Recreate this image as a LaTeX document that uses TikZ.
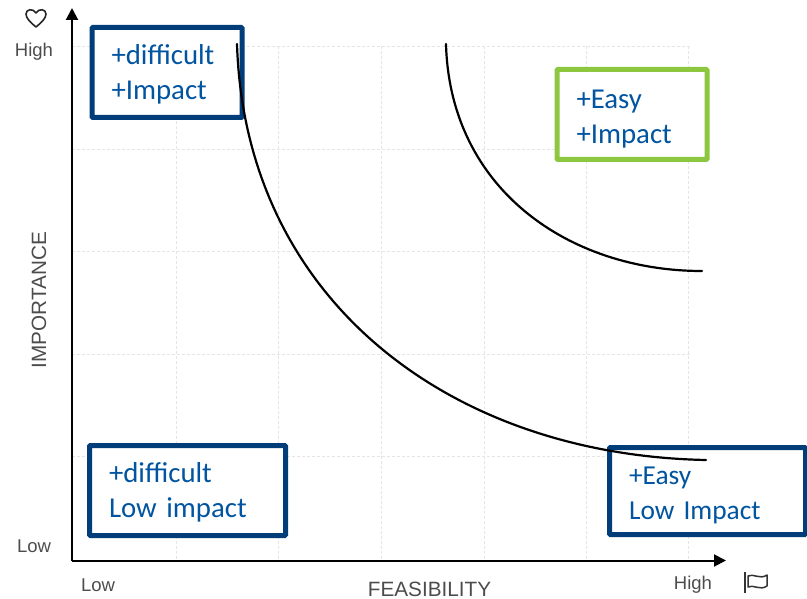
\documentclass[tikz,border=0pt]{standalone}
\usepackage{fontspec}
\setmainfont{Carlito}
\newfontfamily\axisfont{Liberation Sans}
\usetikzlibrary{arrows.meta}
\definecolor{boxblue}{RGB}{0,61,121}
\definecolor{boxgreen}{RGB}{141,198,63}
\definecolor{textblue}{RGB}{0,84,160}
\tikzset{
	quadrant/.style={draw=#1,line width=5pt,fill=white,rounded corners=1pt,inner xsep=19.5pt,inner ysep=0pt,
		text=textblue,align=left,font=\fontsize{28.8}{35}\selectfont},
	dropped/.style={execute at begin node={\vskip#1}},
	axislabel/.style={text=black!70,font=\axisfont\fontsize{18.5}{18.5}\selectfont,inner sep=0pt},
	axistitle/.style={axislabel,font=\axisfont\fontsize{20.7}{21}\selectfont},
	axisline/.style={line width=2pt,-{Triangle[length=12pt,width=12pt]}},
	curveline/.style={line width=2.2pt,line cap=round},
	gridline/.style={black!10,densely dashed,line width=.7pt}
}
\begin{document}
\begin{tikzpicture}[x=1pt,y=-1pt]
	\useasboundingbox (0,0) rectangle (807,599);
	%grid
	\foreach \i in{176,278,381,484,586,688}{
		\draw[gridline] (\i,46) -- (\i,560);
	}
	\foreach \i in{46,149,251,354,456}{
		\draw[gridline] (72,\i) -- (690,\i);
	}
	%boxes
	\node[quadrant=boxblue,dropped=-12pt,text width=111pt,minimum height=90pt] (DI) at (167,72.5) {+difficult\\+Impact};
	\node[quadrant=boxgreen,dropped=-8pt,text width=111pt,minimum height=90pt] (EI) at (632,114.5) {+Easy\\+Impact};
	\node[quadrant=boxblue,dropped=-12pt,text width=157pt,minimum height=90pt] (DL) at (187.5,490.5) {+difficult\\Low impact};
	\node[quadrant=boxblue,dropped=-8pt,text width=157pt,minimum height=87pt,font=\fontsize{27.4}{34.5}\selectfont] (EL) at (707.5,491) {+Easy\\Low Impact};
	%axes
	\coordinate (O) at (72,560.5);
	\coordinate (Y) at (72,8);
	\coordinate (X) at (726,560.5);
	\draw[axisline] (O) -- (Y);
	\draw[axisline] (O) -- (X);
	%curves
	\coordinate (A1) at (237,44);
	\coordinate (A2) at (706,460);
	\coordinate (B1) at (446,44);
	\coordinate (B2) at (702,271);
	\draw[curveline] (A1) .. controls (245,300) and (450,455) .. (A2);
	\draw[curveline] (B1) .. controls (450,190) and (570,271) .. (B2);
	%labels
	\node[axislabel] (YH) at (34,52) {High};
	\node[axislabel] (YL) at (34,546) {Low};
	\node[axislabel] (XL) at (98,585) {Low};
	\node[axislabel] (XH) at (693,585) {High};
	\node[axistitle] (XT) at (429.5,589) {FEASIBILITY};
	\node[axistitle,rotate=90] (YT) at (39,300) {IMPORTANCE};
	%heart
	\draw[line width=1.6pt,black!85,line join=round] (36,27) .. controls (30,22) and (26,18) .. (26,14)
		.. controls (26,9) and (33,8) .. (36,13) .. controls (39,8) and (46,9) .. (46,14)
		.. controls (46,18) and (42,22) .. (36,27) -- cycle;
	%flag
	\draw[line width=1.8pt,black!80] (745,572) -- (745,593);
	\draw[line width=1.5pt,black!80,line join=round] (748,576) .. controls (753,573) and (760,580) .. (767,575)
		-- (767,586) .. controls (760,591) and (753,584) .. (748,587) -- cycle;
\end{tikzpicture}
\end{document}
